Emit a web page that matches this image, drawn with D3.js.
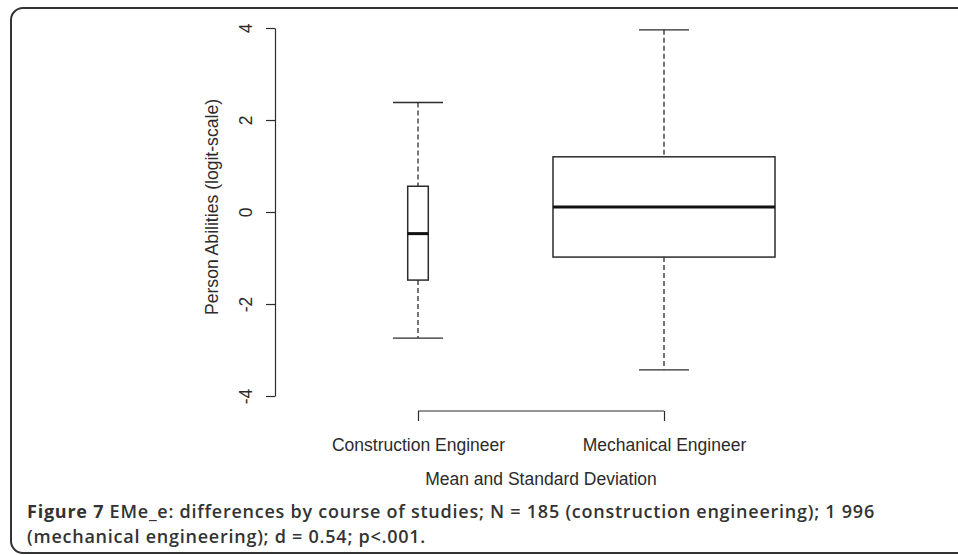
<!DOCTYPE html>
<html>
<head>
<meta charset="utf-8">
<script src="https://cdn.jsdelivr.net/npm/d3@7"></script>
<style>
  body { margin: 0; background: #fff; }
  svg { display: block; }
</style>
</head>
<body>
<svg id="chart" width="958" height="555"></svg>
<script>
// data
var groups = ["Construction Engineer", "Mechanical Engineer"];
var groupN = [185, 1996];
var whiskerLow = [-2.74, -3.43];
var q1 = [-1.48, -0.98];
var median = [-0.47, 0.11];
var q3 = [0.56, 1.2];
var whiskerHigh = [2.38, 3.96];
var yTicks = [-4, -2, 0, 2, 4];
var captionLines = [
    ["Figure 7", " EMe_e: differences by course of studies; N = 185 (construction engineering); 1 996"],
    ["", "(mechanical engineering); d = 0.54; p<.001."]
];

function drawBoxplot() {
    var svg = d3.select("#chart"),
        ink = "#2b2b2b";

    // outer frame of the figure panel
    svg.append("rect")
       .attr("x", 11).attr("y", 8)
       .attr("width", 1000).attr("height", 545)
       .attr("rx", 12).attr("ry", 12)
       .attr("fill", "none")
       .attr("stroke", "#333")
       .attr("stroke-width", 2);

    var x = d3.scaleLinear().domain([0.5, 2.5]).range([295, 787]);
    var y = d3.scaleLinear().domain([-4, 4]).range([396, 28]);
    var w = d3.scaleLinear().domain([0, d3.max(groupN)]).range([0, 222]);
    var capHalf = 25;

    var data = groups.map(function(g, i) {
        return {name: g, pos: i + 1, n: groupN[i], lo: whiskerLow[i], q1: q1[i],
                med: median[i], q3: q3[i], hi: whiskerHigh[i]};
    });

    var font = "'Liberation Sans', Arial, sans-serif";

    // y axis (R style, labels rotated)
    var yAxis = svg.append("g")
       .attr("transform", "translate(275,0)")
       .call(d3.axisLeft(y).tickValues(yTicks).tickSize(9).tickSizeOuter(0)
               .tickFormat(function(d) { return String(d); }));
    yAxis.select(".domain").attr("stroke", ink).attr("stroke-width", 1.2);
    yAxis.selectAll(".tick line").attr("stroke", ink).attr("stroke-width", 1.2);
    yAxis.selectAll(".tick text")
         .attr("x", null).attr("dy", null)
         .attr("transform", "translate(-23,0) rotate(-90)")
         .attr("text-anchor", "middle")
         .attr("fill", ink)
         .style("font-family", font)
         .style("font-size", "17.5px");

    // x axis spanning the groups
    var xAxis = svg.append("g")
       .attr("transform", "translate(0,411)")
       .call(d3.axisBottom(x).tickValues(data.map(function(d) { return d.pos; }))
               .tickSize(10).tickSizeOuter(0)
               .tickFormat(function(d) { return groups[d - 1]; }));
    xAxis.select(".domain").attr("d", "M" + x(1) + ",0H" + x(2))
         .attr("stroke", ink).attr("stroke-width", 1.2);
    xAxis.selectAll(".tick line").attr("stroke", ink).attr("stroke-width", 1.2);
    xAxis.selectAll(".tick text")
         .attr("y", 40).attr("dy", null)
         .attr("fill", ink)
         .style("font-family", font)
         .style("font-size", "17.5px");

    // axis titles
    svg.append("text")
       .attr("transform", "translate(218," + (y(0) - 5) + ") rotate(-90)")
       .attr("text-anchor", "middle")
       .attr("fill", ink)
       .style("font-family", font)
       .style("font-size", "17.6px")
       .text("Person Abilities (logit-scale)");

    svg.append("text")
       .attr("x", (x(1) + x(2)) / 2).attr("y", 485)
       .attr("text-anchor", "middle")
       .attr("fill", ink)
       .style("font-family", font)
       .style("font-size", "17.5px")
       .text("Mean and Standard Deviation");

    // boxes
    var box = svg.selectAll(".box")
       .data(data)
       .enter().append("g")
       .attr("class", "box");

    box.append("line")
       .attr("x1", function(d) { return x(d.pos); })
       .attr("x2", function(d) { return x(d.pos); })
       .attr("y1", function(d) { return y(d.hi); })
       .attr("y2", function(d) { return y(d.q3); })
       .attr("stroke", ink).attr("stroke-width", 1.3)
       .attr("stroke-dasharray", "5,3");

    box.append("line")
       .attr("x1", function(d) { return x(d.pos); })
       .attr("x2", function(d) { return x(d.pos); })
       .attr("y1", function(d) { return y(d.q1); })
       .attr("y2", function(d) { return y(d.lo); })
       .attr("stroke", ink).attr("stroke-width", 1.3)
       .attr("stroke-dasharray", "5,3");

    ["hi", "lo"].forEach(function(k) {
        box.append("line")
           .attr("x1", function(d) { return x(d.pos) - capHalf; })
           .attr("x2", function(d) { return x(d.pos) + capHalf; })
           .attr("y1", function(d) { return y(d[k]); })
           .attr("y2", function(d) { return y(d[k]); })
           .attr("stroke", ink).attr("stroke-width", 1.3);
    });

    box.append("rect")
       .attr("x", function(d) { return x(d.pos) - w(d.n) / 2; })
       .attr("width", function(d) { return w(d.n); })
       .attr("y", function(d) { return y(d.q3); })
       .attr("height", function(d) { return y(d.q1) - y(d.q3); })
       .attr("fill", "#fff")
       .attr("stroke", ink).attr("stroke-width", 1.5);

    box.append("line")
       .attr("x1", function(d) { return x(d.pos) - w(d.n) / 2; })
       .attr("x2", function(d) { return x(d.pos) + w(d.n) / 2; })
       .attr("y1", function(d) { return y(d.med); })
       .attr("y2", function(d) { return y(d.med); })
       .attr("stroke", "#111").attr("stroke-width", 3);

    // caption: 18px, then letter-spaced so the first line runs to x = 875
    var cap = svg.append("g").attr("class", "caption")
       .style("font-family", "'Open Sans', 'Noto Sans', sans-serif")
       .style("font-size", "18px");
    var rows = [];
    captionLines.forEach(function(line, i) {
        var t = cap.append("text")
           .attr("x", 27).attr("y", 518 + i * 25)
           .attr("fill", "#333")
           .style("font-weight", 600);
        if (line[0]) t.append("tspan").style("font-weight", 700).text(line[0]);
        t.append("tspan").text(line[1]);
        rows.push(t);
    });
    var len = rows[0].node().getComputedTextLength();
    var nChars = (captionLines[0][0] + captionLines[0][1]).length;
    cap.style("letter-spacing", ((848 - len) / nChars).toFixed(3) + "px");
}

drawBoxplot();
</script>
</body>
</html>
